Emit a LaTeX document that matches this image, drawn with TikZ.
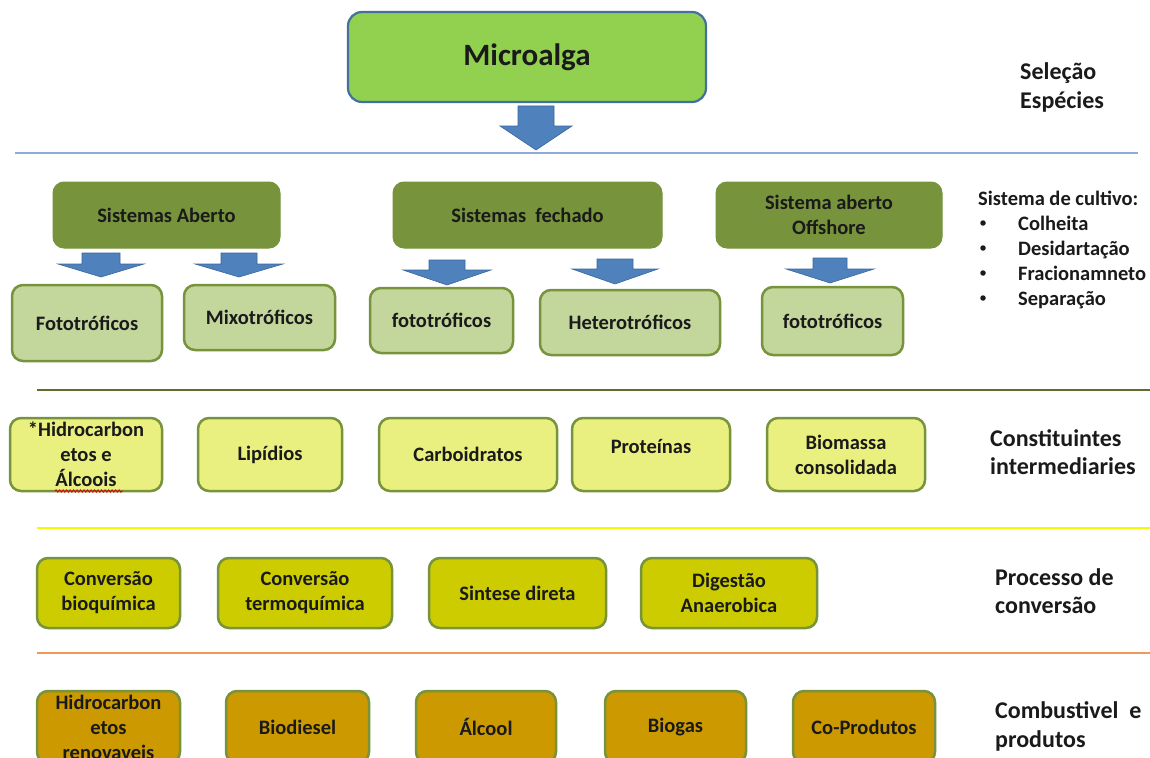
\documentclass[tikz,border=0pt]{standalone}
\usepackage{fontspec}
\setmainfont{Carlito}
\usetikzlibrary{decorations.pathmorphing}

\definecolor{microfill}{HTML}{92D050}
\definecolor{microedge}{HTML}{41719C}
\definecolor{sysfill}{HTML}{77933C}
\definecolor{trophfill}{HTML}{C3D69B}
\definecolor{constfill}{HTML}{E9F07F}
\definecolor{procfill}{HTML}{CCCC00}
\definecolor{prodfill}{HTML}{CC9900}
\definecolor{boxedge}{HTML}{77933C}
\definecolor{arrowfill}{HTML}{4F81BD}
\definecolor{arrowedge}{HTML}{3A679C}
\definecolor{lineblue}{HTML}{8EAADB}
\definecolor{lineolive}{HTML}{5E6E2C}
\definecolor{lineyellow}{HTML}{F8F800}
\definecolor{lineorange}{HTML}{F0985A}
\definecolor{ink}{HTML}{1A1A1A}

% block arrow: centre x, shaft half width, head half width, top y, head base y, tip y
\newcommand\blockarrow[6]{%
  \filldraw[barrow] (#1-#2,#4) -- (#1+#2,#4) -- (#1+#2,#5) -- (#1+#3,#5)
    -- (#1,#6) -- (#1-#3,#5) -- (#1-#2,#5) -- cycle;}

\begin{document}
\begin{tikzpicture}[x=1pt,y=-1pt,
  box/.style={rounded corners=11pt, line width=2.5pt, inner sep=0pt, align=center,
    text=ink, font=\fontsize{20.5}{25}\selectfont\bfseries},
  microbox/.style={box, fill=microfill, draw=microedge, line width=2.2pt,
    rounded corners=14pt, font=\fontsize{31}{34}\selectfont\bfseries},
  sysbox/.style={box, fill=sysfill, draw=sysfill, line width=1pt},
  trophbox/.style={box, fill=trophfill, draw=boxedge},
  constbox/.style={box, fill=constfill, draw=boxedge},
  procbox/.style={box, fill=procfill, draw=boxedge},
  prodbox/.style={box, fill=prodfill, draw=boxedge},
  lbl/.style={inner sep=0pt, text=ink, font=\fontsize{20.5}{25}\selectfont\bfseries},
  side/.style={anchor=west, inner sep=0pt, align=left, text=ink,
    font=\fontsize{24}{28.5}\selectfont\bfseries},
  listtext/.style={anchor=base west, inner sep=0pt, text=ink,
    font=\fontsize{20.5}{25}\selectfont\bfseries},
  listdot/.style={circle, fill=ink, inner sep=0pt, minimum size=5.5pt},
  barrow/.style={fill=arrowfill, draw=arrowedge, line width=0.6pt},
  sep/.style={line width=2pt}
]
\path[use as bounding box, clip] (0,0) rectangle (1150,757);

% species selection
\node[microbox, minimum width=358, minimum height=90] (micro) at (527,57) {Microalga};
\blockarrow{536}{18}{36}{106}{126}{150}
\draw[sep, lineblue] (15,153) -- (1138,153);
\node[side] (selecao) at (1020,87.5) {Seleção\\Espécies};

% cultivation systems
\node[sysbox, minimum width=227, minimum height=66] (aberto) at (166.5,215) {Sistemas Aberto};
\node[sysbox, minimum width=269, minimum height=66] (fechado) at (527.5,215) {Sistemas\ \ fechado};
\node[sysbox, minimum width=226, minimum height=66] (offshore) at (829,215) {Sistema aberto\\Offshore};

\blockarrow{101}{19}{43}{253}{264}{277}
\blockarrow{239}{18}{44}{253}{264}{277}
\blockarrow{447}{18}{44}{260}{270}{285}
\blockarrow{615}{18}{43}{259}{269}{284}
\blockarrow{830}{17}{44}{258}{269}{283}

\node[trophbox, minimum width=150, minimum height=76] (foto1) at (87,323) {Fototróficos};
\node[trophbox, minimum width=151, minimum height=65] (mixo) at (259.5,317.5) {Mixotróficos};
\node[trophbox, minimum width=143, minimum height=65] (foto2) at (441.5,320.5) {fototróficos};
\node[trophbox, minimum width=180, minimum height=65] (hetero) at (630,322.5) {Heterotróficos};
\node[trophbox, minimum width=141, minimum height=68] (foto3) at (832.5,321) {fototróficos};

\node[listtext] (cultivo) at (978,205) {Sistema de cultivo:};
\foreach \y/\t [count=\i] in {230/Colheita, 255/Desidartação, 280/Fracionamneto, 305/Separação}{
  \node[listdot] (bullet\i) at (983,\y-7) {};
  \node[listtext] (item\i) at (1018,\y) {\t};
}

\draw[sep, lineolive] (37,390) -- (1150,390);

% intermediate constituents
\node[constbox, minimum width=152, minimum height=73] (hidro) at (86,454.5) {*Hidrocarbon\\etos e\\Álcoois};
\node[constbox, minimum width=144, minimum height=73] (lipid) at (270,454.5) {Lipídios};
\node[constbox, minimum width=178, minimum height=73] (carbo) at (468,454.5) {Carboidratos};
\node[constbox, minimum width=158, minimum height=73] (prot) at (651,454.5) {};
\node[lbl] (protlabel) at (651,446) {Proteínas};
\node[constbox, minimum width=158, minimum height=73] (biom) at (846,454.5) {Biomassa\\consolidada};
\draw[red!85!black, line width=0.8pt, decorate,
  decoration={snake, segment length=3.5pt, amplitude=1.2pt}] (55,491) -- (123,491);
\node[side] (constit) at (990,452) {Constituintes\\intermediaries};

\draw[sep, lineyellow] (37,528) -- (1150,528);

% conversion processes
\node[procbox, minimum width=143, minimum height=70] (bioq) at (108.5,593) {Conversão\\bioquímica};
\node[procbox, minimum width=174, minimum height=70] (termo) at (305,593) {Conversão\\termoquímica};
\node[procbox, minimum width=177, minimum height=70] (sint) at (517.5,593) {Sintese direta};
\node[procbox, minimum width=176, minimum height=70] (dig) at (729,593) {Digestão\\Anaerobica};
\node[side] (processo) at (995,591) {Processo de\\conversão};

\draw[sep, lineorange] (37,653) -- (1150,653);

% fuels and products
\node[prodbox, minimum width=143, minimum height=72] (hidr2) at (108.5,727) {Hidrocarbon\\etos\\renovaveis};
\node[prodbox, minimum width=143, minimum height=72] (biod) at (297.5,727) {Biodiesel};
\node[prodbox, minimum width=140, minimum height=72] (alc) at (486,727) {Álcool};
\node[prodbox, minimum width=141, minimum height=72] (biog) at (675.5,727) {Biogas};
\node[prodbox, minimum width=142, minimum height=72] (copr) at (864,727) {Co-Produtos};
\node[side] (combust) at (995,726.5) {Combustivel\ \ e\\produtos};
\end{tikzpicture}
\end{document}
